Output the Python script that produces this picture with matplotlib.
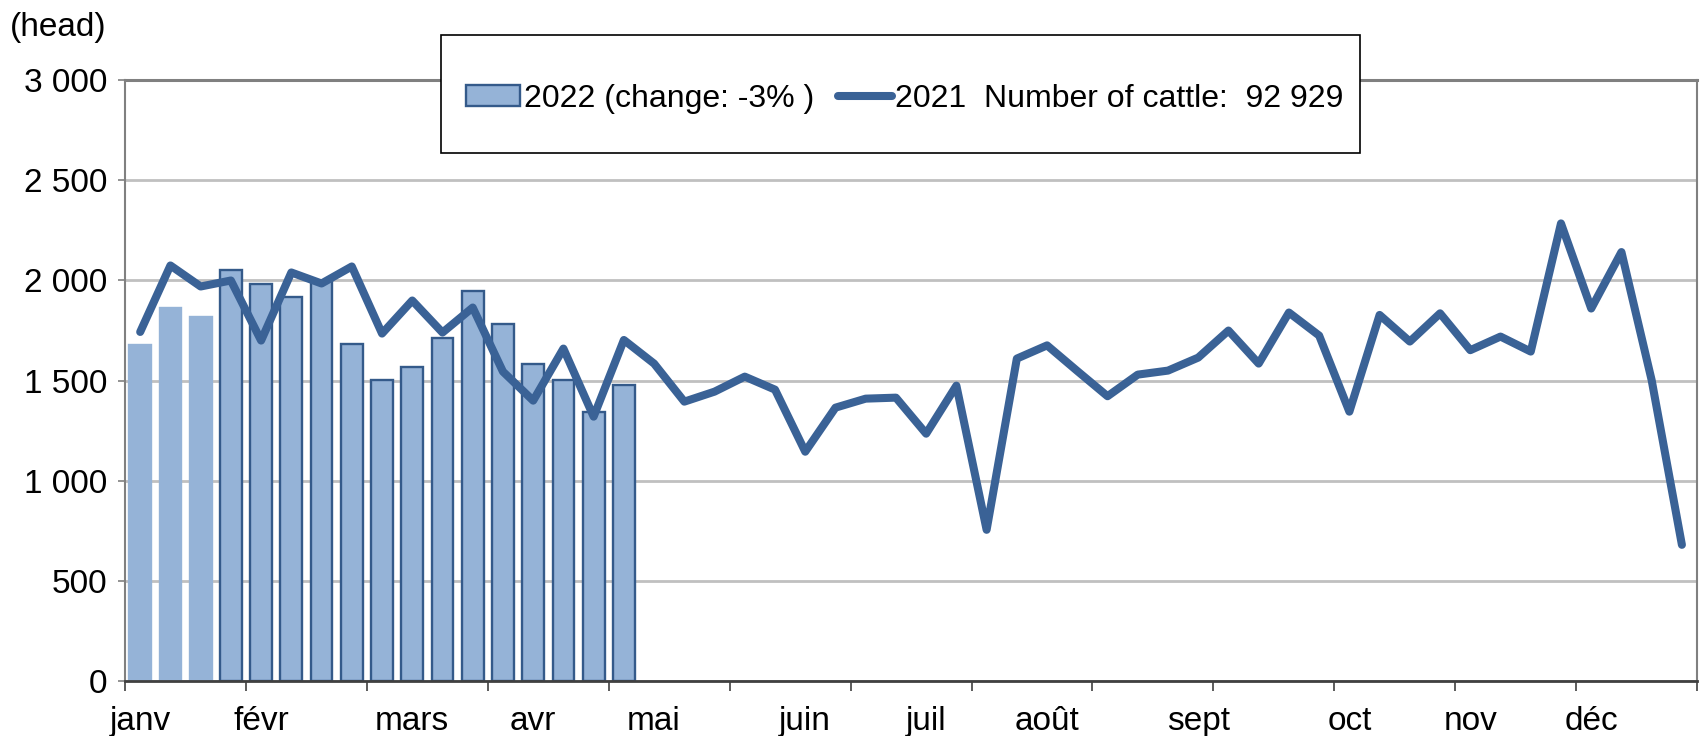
import numpy as np
import matplotlib
matplotlib.use("Agg")
import matplotlib.pyplot as plt
from matplotlib.patches import Rectangle
from matplotlib.ticker import FuncFormatter, FixedLocator

plt.rcParams['font.family'] = ['Liberation Sans', 'DejaVu Sans']

# %% data (weekly slaughter, head)
cattle_2022 = [1680, 1865, 1820, 2050, 1980, 1920, 1995, 1685, 1505, 1570,
               1715, 1950, 1785, 1582, 1505, 1341, 1480]
cattle_2021 = [1743, 2075, 1970, 2000, 1700, 2040, 1985, 2070, 1735, 1900,
               1740, 1865, 1545, 1400, 1660, 1320, 1703, 1585, 1395, 1445,
               1520, 1455, 1145, 1365, 1410, 1415, 1235, 1475, 755, 1610,
               1676, 1548, 1422, 1530, 1550, 1615, 1750, 1585, 1840, 1725,
               1345, 1828, 1695, 1836, 1652, 1720, 1645, 2285, 1860, 2142,
               1502, 680]
month_labels = ['janv', 'févr', 'mars', 'avr', 'mai', 'juin', 'juil',
                'août', 'sept', 'oct', 'nov', 'déc']
month_weeks = [0, 4, 9, 13, 17, 22, 26, 30, 35, 40, 44, 48]
n_light = 3  # first weeks drawn without outline

label_2022 = "2022 (change: -3% )"
label_2021 = "2021  Number of cattle:  92 929"

# %% colors
bar_fill = '#95B3D7'
bar_edge = '#345A8A'
line_col = '#3A6296'

# %% plot
fig = plt.figure(figsize=(17.04, 7.36), dpi=100)
ax = fig.add_axes([0.0734, 0.0747, 0.9225, 0.8163])

weeks_22 = np.arange(len(cattle_2022))
weeks_21 = np.arange(len(cattle_2021))
bars = ax.bar(weeks_22, cattle_2022, width=0.72, color=bar_fill,
              edgecolor=bar_edge, linewidth=1.7, zorder=2)
for b in bars[:n_light]:
    b.set_edgecolor(bar_fill)
ax.plot(weeks_21, cattle_2021, color=line_col, lw=5.8,
        solid_joinstyle='round', solid_capstyle='round', zorder=3)

ax.set_xlim(-0.5, len(cattle_2021) - 0.5)
ax.set_ylim(0, 3000)
ax.set_yticks(np.arange(0, 3001, 500))
ax.yaxis.set_major_formatter(FuncFormatter(lambda v, p: f"{int(v):,}".replace(',', ' ')))
ax.grid(axis='y', color='#C0C0C0', lw=2, zorder=0)
ax.set_axisbelow(True)

ax.xaxis.set_major_locator(FixedLocator(np.arange(-0.5, len(cattle_2021), 4)))
ax.xaxis.set_major_formatter(FuncFormatter(lambda v, p: ''))
ax.xaxis.set_minor_locator(FixedLocator(month_weeks))
ax.set_xticklabels(month_labels, minor=True)
ax.tick_params(axis='x', which='major', length=7, width=1.2, color='#404040')
ax.tick_params(axis='x', which='minor', length=0, pad=18, labelsize=24)
ax.tick_params(axis='y', length=5, width=1.2, color='#808080', pad=8, labelsize=24)

for s in ['left', 'right', 'top']:
    ax.spines[s].set_color('#808080')
    ax.spines[s].set_linewidth(1.5)
ax.spines['top'].set_linewidth(2.2)
ax.spines['bottom'].set_color('#404040')
ax.spines['bottom'].set_linewidth(2)

# legend box
fig.patches.append(Rectangle((0.2588, 0.792), 0.5394, 0.1604, transform=fig.transFigure,
                             facecolor='white', edgecolor='black', lw=1.2, zorder=5))
h_bar = Rectangle((0, 0), 1, 1, facecolor=bar_fill, edgecolor=bar_edge, lw=1.7)
h_line, = ax.plot([], [], color=line_col, lw=5.8, solid_capstyle='round')
fig.legend([h_bar, h_line], [label_2022, label_2021], loc='center',
           bbox_to_anchor=(0.531, 0.866), ncol=2, frameon=False, fontsize=23,
           handlelength=1.7, handleheight=0.65, handletextpad=0.1,
           columnspacing=0.75)

fig.text(0.006, 0.962, '(head)', fontsize=24, va='center', ha='left')

fig.savefig('out.png', dpi=100)
